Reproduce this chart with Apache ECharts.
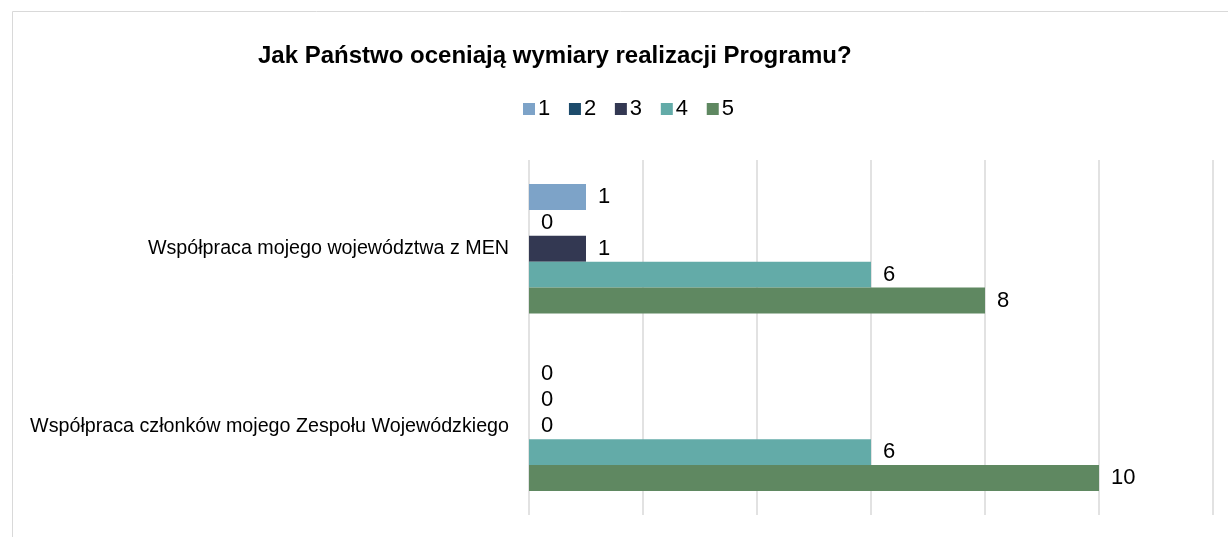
<!DOCTYPE html>
<html><head><meta charset="utf-8">
<script src="https://cdn.jsdelivr.net/npm/echarts@6/dist/echarts.min.js"></script>
<style>html,body{margin:0;padding:0;background:#fff}#c{width:1228px;height:537px}</style>
</head><body><div id="c"></div>
<script>
const categories = ['Współpraca mojego województwa z MEN', 'Współpraca członków mojego Zespołu Wojewódzkiego'];
const seriesNames = ['1', '2', '3', '4', '5'];
const s1 = [1, 0];
const s2 = [0, 0];
const s3 = [1, 0];
const s4 = [6, 6];
const s5 = [8, 10];
const seriesValues = [s1, s2, s3, s4, s5];
const colors = ['#7DA3C8', '#1D4B6B', '#333852', '#63ABA8', '#5F8861'];
const FONT = '"Liberation Sans Narrow", "Liberation Sans", Arial, sans-serif';

const chart = echarts.init(document.getElementById('c'));
chart.setOption({
  animation: false,
  textStyle: {fontFamily: FONT},
  graphic: [{type: 'rect', shape: {x: 12.5, y: 11.5, width: 1300, height: 600}, style: {fill: 'none', stroke: '#d9d9d9', lineWidth: 1}, silent: true, z: -10}],
  title: {text: 'Jak Państwo oceniają wymiary realizacji Programu?', left: 258, top: 44, padding: 0,
    textStyle: {fontFamily: FONT, fontWeight: 'bold', fontSize: 24, color: '#000'}},
  legend: {left: 523, top: 98, padding: 0, itemWidth: 12, itemHeight: 12, itemGap: 18.7,
    textStyle: {fontFamily: FONT, fontSize: 22, color: '#000', padding: [0,0,0,-2]},
    data: seriesNames.map(n => ({name: n, icon: 'rect'}))},
  grid: {left: 529, right: 15, top: 160, bottom: 22, containLabel: false},
  xAxis: {type: 'value', min: 0, max: 12, interval: 2,
    axisLabel: {show: false}, axisLine: {show: false}, axisTick: {show: false},
    splitLine: {show: true, lineStyle: {color: '#d9d9d9', width: 1.5}}},
  yAxis: {type: 'category', data: categories, inverse: true,
    axisLine: {show: false}, axisTick: {show: false},
    axisLabel: {fontFamily: FONT, fontSize: 19.7, color: '#000', margin: 20}},
  series: seriesValues.map((vals, i) => ({
    name: seriesNames[i], type: 'bar', data: vals,
    barGap: '0%', barCategoryGap: '27%',
    itemStyle: {color: colors[i]},
    label: {show: true, position: 'right', distance: 12, fontFamily: FONT, fontSize: 22, color: '#000'}
  }))
});
</script></body></html>
